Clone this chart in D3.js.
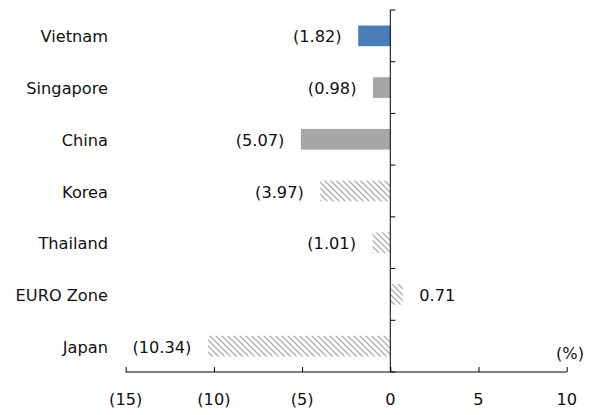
<!DOCTYPE html>
<html><head><meta charset="utf-8">
<script src="https://cdn.jsdelivr.net/npm/d3@7"></script>
<style>
html,body{margin:0;padding:0;background:#fff;}
svg{display:block;font-family:"DejaVu Sans",Verdana,sans-serif;}
</style></head>
<body><svg id="c" width="593" height="415"></svg>
<script>
const categories = ["Vietnam","Singapore","China","Korea","Thailand","EURO Zone","Japan"];
const values = [-1.82,-0.98,-5.07,-3.97,-1.01,0.71,-10.34];
const fillTypes = ["blue","grey","grey","hatch","hatch","hatch","hatch"];
const tickValues = [-15,-10,-5,0,5,10];
const tickLabels = ["(15)","(10)","(5)","0","5","10"];
const unitLabel = "(%)";

const svg = d3.select("#c");
const x = d3.scaleLinear().domain([-15,10]).range([125.7,566.7]);
const y = d3.scaleBand().domain(categories).range([10,372]).padding(0);
const fmt = v => v < 0 ? "(" + Math.abs(v).toFixed(2) + ")" : v.toFixed(2);

const defs = svg.append("defs");
const pat = defs.append("pattern").attr("id","hatch").attr("patternUnits","userSpaceOnUse")
  .attr("width",6).attr("height",6);
pat.append("rect").attr("width",6).attr("height",6).attr("fill","#fff");
pat.append("path").attr("d","M-1,-1L7,7M5,-1L7,1M-1,5L1,7")
  .attr("stroke","#adadad").attr("stroke-width",1.3);

const colors = {blue:"#4a7ebb", grey:"#a6a6a6", hatch:"url(#hatch)"};
const barH = y.bandwidth()*0.4;

svg.append("g").selectAll("rect").data(categories).join("rect")
  .attr("x",(d,i)=>x(Math.min(0,values[i])))
  .attr("width",(d,i)=>Math.abs(x(values[i])-x(0)))
  .attr("y",d=>y(d)+y.bandwidth()/2-barH/2)
  .attr("height",barH)
  .attr("fill",(d,i)=>colors[fillTypes[i]]);

// value labels
svg.append("g").selectAll("text").data(categories).join("text")
  .attr("x",(d,i)=> values[i]<0 ? x(values[i])-16.5 : x(values[i])+16.5)
  .attr("y",d=>y(d)+y.bandwidth()/2+1)
  .attr("text-anchor",(d,i)=>values[i]<0?"end":"start")
  .attr("dominant-baseline","central")
  .attr("font-size",16.2).attr("fill","#111")
  .text((d,i)=>fmt(values[i]));

// category labels
svg.append("g").selectAll("text").data(categories).join("text")
  .attr("x",108).attr("y",d=>y(d)+y.bandwidth()/2+1)
  .attr("text-anchor","end").attr("dominant-baseline","central")
  .attr("font-size",16.2).attr("fill","#111").text(d=>d);

// x axis
const xAxis = d3.axisTop(x).tickValues(tickValues).tickSize(5).tickFormat("");
const gx = svg.append("g").attr("transform","translate(0,372)").call(xAxis);
gx.select(".domain").attr("d",`M${x(-15)},0H${x(10)}`).attr("stroke","#000");
gx.selectAll(".tick line").attr("stroke","#000");
svg.append("g").selectAll("text").data(tickValues).join("text")
  .attr("x",d=>x(d)).attr("y",399).attr("text-anchor","middle")
  .attr("dominant-baseline","central").attr("font-size",16.2).attr("fill","#111")
  .text((d,i)=>tickLabels[i]);

// y axis with ticks at band boundaries
const bounds = categories.map(c=>y(c)).concat([y.range()[1]]);
const gy = svg.append("g").attr("transform",`translate(${x(0)},0)`);
gy.append("line").attr("y1",10).attr("y2",372).attr("stroke","#000");
gy.selectAll(".t").data(bounds).join("line").attr("class","t")
  .attr("x1",0).attr("x2",5).attr("y1",d=>d).attr("y2",d=>d).attr("stroke","#000");

svg.append("text").attr("x",584).attr("y",353).attr("text-anchor","end")
  .attr("dominant-baseline","central").attr("font-size",16.2).attr("fill","#111").text(unitLabel);
</script></body></html>
